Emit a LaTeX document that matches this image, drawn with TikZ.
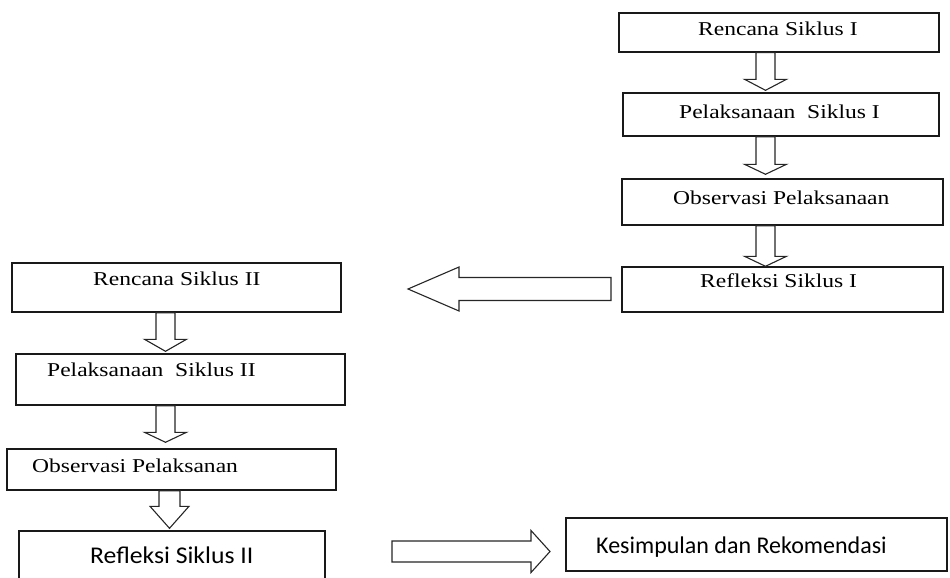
\documentclass[tikz,border=0pt]{standalone}
\usepackage{fontspec}
\setmainfont{Liberation Serif}
\newfontfamily\calibrifont{Carlito}
\usepackage{tikz}
\usetikzlibrary{positioning, calc}

\newcommand{\widetext}[1]{\scalebox{1.2}[1]{#1}}

\begin{document}
\begin{tikzpicture}[x=1pt, y=-1pt,
        box/.style={draw=black!90, line width=1.4pt, inner sep=0pt},
        boxtext/.style={anchor=base west, inner sep=0pt, font=\fontsize{19.6}{23}\selectfont},
        sanstext/.style={anchor=base west, inner sep=0pt, font=\calibrifont\fontsize{24}{28}\selectfont},
        hollow/.style={draw=black!85, line width=1.1pt, fill=white, line join=miter}]

    \useasboundingbox (0,0) rectangle (950,578);
    \clip (0,0) rectangle (950,578);

    % boxes, given by center and size
    \foreach \name/\cx/\cy/\w/\h in {r1/779/32.5/320/39, r2/781/114.5/316/43,
        r3/782.5/202/321/46, r4/782.5/289.5/321/45,
        l1/176.5/287.5/329/49, l2/180.5/379.5/329/51,
        l3/171.5/469.5/329/41, l4/172/565.5/306/69,
        k/756.5/544.5/381/53}
    {
        \node[box, minimum width=\w pt, minimum height=\h pt] (\name) at (\cx,\cy) {};
    }

    % hollow arrows pointing down
    \foreach \from/\to/\ax/\sw/\hw/\hl/\gap in {r1/r2/765.5/9.5/21/11/2,
        r2/r3/765.5/9.5/21/10/4, r3/r4/765.5/9.5/21/10/0,
        l1/l2/165.5/9.5/21/12/2, l2/l3/165.5/9.5/21/10/6,
        l3/l4/169.5/10.5/19.5/22/2}
    {
        \draw[hollow]
            let \p1 = (\from.south), \p2 = (\to.north)
            in (\ax, \y2+\gap pt) -- (\ax-\hw, \y2+\gap pt+\hl pt)
            -- (\ax-\sw, \y2+\gap pt+\hl pt) -- (\ax-\sw, \y1)
            -- (\ax+\sw, \y1) -- (\ax+\sw, \y2+\gap pt+\hl pt)
            -- (\ax+\hw, \y2+\gap pt+\hl pt) -- cycle;
    }

    % back to the second cycle
    \coordinate (backtail) at (611,289);
    \coordinate (backtip) at (408,289);
    \draw[hollow]
        let \p1 = (backtail), \p2 = (backtip)
        in (\p2) -- (\x2+51pt, \y2+22pt) -- (\x2+51pt, \y2+11.5pt)
        -- (\x1, \y1+11.5pt) -- (\x1, \y1-11.5pt)
        -- (\x2+51pt, \y2-11.5pt) -- (\x2+51pt, \y2-22pt) -- cycle;

    % on to the conclusion
    \coordinate (endtail) at (392,551.5);
    \coordinate (endtip) at (550,551.5);
    \draw[hollow]
        let \p1 = (endtail), \p2 = (endtip)
        in (\p2) -- (\x2-19pt, \y2+21pt) -- (\x2-19pt, \y2+10.5pt)
        -- (\x1, \y1+10.5pt) -- (\x1, \y1-10.5pt)
        -- (\x2-19pt, \y2-10.5pt) -- (\x2-19pt, \y2-21pt) -- cycle;

    % texts
    \foreach \name/\tx/\ty/\txt in {r1/698/36/{Rencana Siklus I},
        r2/679/118/{Pelaksanaan\ \ Siklus I},
        r3/673/204/{Observasi Pelaksanaan},
        r4/700/287/{Refleksi Siklus I},
        l1/93/285/{Rencana Siklus II},
        l2/47/376/{Pelaksanaan\ \ Siklus II},
        l3/32/472/{Observasi Pelaksanan}}
    {
        \node[boxtext] (t-\name) at (\tx,\ty) {\widetext{\txt}};
    }
    \node[sanstext] (t-l4) at (90,563) {\scalebox{1.07}[1]{Refleksi Siklus II}};
    \node[sanstext] (t-k) at (596,553) {Kesimpulan dan Rekomendasi};
\end{tikzpicture}
\end{document}
